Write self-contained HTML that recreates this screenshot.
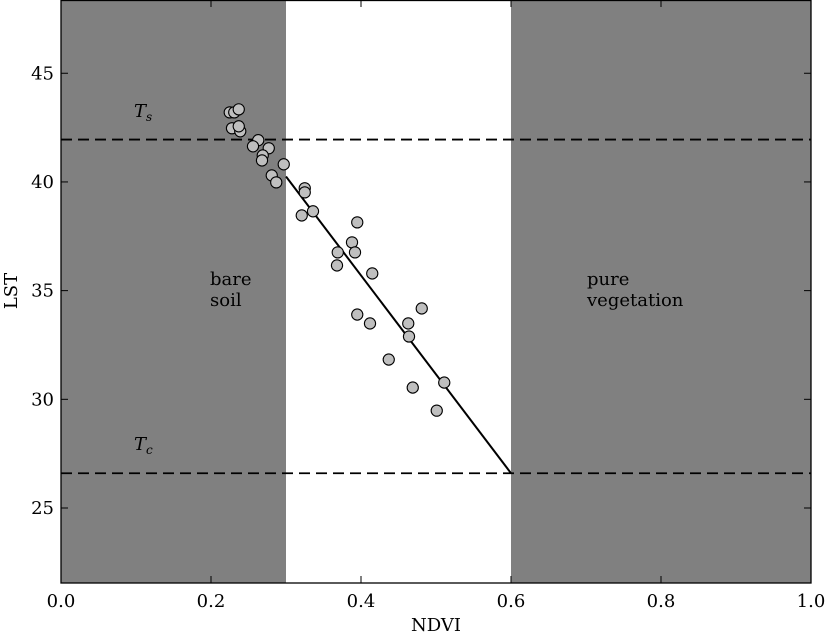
<!DOCTYPE html>
<html><head><meta charset="utf-8"><style>
html,body{margin:0;padding:0;background:#fff;}
svg text{font-family:"DejaVu Serif","Liberation Serif",serif;}
</style></head><body>
<svg id="chart" width="827" height="633" xmlns="http://www.w3.org/2000/svg"></svg>
<script>
const ndvi=[.225,.231,.237,.228,.239,.237,.263,.256,.277,.269,.268,.297,.281,.287,.325,.325,.321,.336,.395,.388,.392,.369,.368,.415,.395,.412,.463,.481,.464,.437,.469,.511,.501];
const lst=[43.20,43.20,43.34,42.47,42.33,42.56,41.92,41.64,41.55,41.22,40.99,40.81,40.30,39.98,39.71,39.52,38.46,38.65,38.14,37.22,36.76,36.76,36.16,35.79,33.90,33.49,33.49,34.18,32.89,31.83,30.54,30.77,29.48];
const xTicks=[0.0,0.2,0.4,0.6,0.8,1.0];
const xTickLabels=["0.0","0.2","0.4","0.6","0.8","1.0"];
const yTicks=[25,30,35,40,45];
const yTickLabels=["25","30","35","40","45"];
const Ts=41.95, Tc=26.6;
const fitLine=[[0.3,40.25],[0.6,26.6]];
const zones=[[0,0.3],[0.6,1.0]];

const L=61,R=811,T=0,B=583,xMin=0,xMax=1,yMin=21.55,yMax=48.37;
const X=v=>L+(v-xMin)/(xMax-xMin)*(R-L);
const Y=v=>B-(v-yMin)/(yMax-yMin)*(B-T);
const svg=document.getElementById('chart');
const NS='http://www.w3.org/2000/svg';
function mk(tag,attrs,text){const e=document.createElementNS(NS,tag);for(const k in attrs)e.setAttribute(k,attrs[k]);if(text!=null)e.textContent=text;svg.appendChild(e);return e;}

zones.forEach((z,i)=>{
 const r=mk('rect',{x:X(z[0]),y:T,width:X(z[1])-X(z[0]),height:B-T,fill:'#808080'});
 
 
});
[Ts,Tc].forEach((v,i)=>{
 const l=mk('line',{x1:L,x2:R,y1:Y(v),y2:Y(v),stroke:'#000','stroke-width':1.8,'stroke-dasharray':'11,6'});
 
 
});
const fl=mk('line',{x1:X(fitLine[0][0]),y1:Y(fitLine[0][1]),x2:X(fitLine[1][0]),y2:Y(fitLine[1][1]),stroke:'#000','stroke-width':2});


ndvi.forEach((v,i)=>{
 const c=mk('circle',{cx:X(v),cy:Y(lst[i]),r:5.6,fill:'#bfbfbf',stroke:'#000','stroke-width':1.1});
 
 
});
const fr=mk('rect',{x:L,y:T+0.5,width:R-L,height:B-T-0.5,fill:'none',stroke:'#000','stroke-width':1.3});


xTicks.forEach((v,i)=>{
 mk('line',{x1:X(v),x2:X(v),y1:B,y2:B-7,stroke:'#000'});
 mk('line',{x1:X(v),x2:X(v),y1:T,y2:T+7,stroke:'#000'});
 const t=mk('text',{x:X(v),y:B+24,'text-anchor':'middle','font-size':18},xTickLabels[i]);
 
 
});
yTicks.forEach((v,i)=>{
 mk('line',{x1:L,x2:L+7,y1:Y(v),y2:Y(v),stroke:'#000'});
 mk('line',{x1:R,x2:R-7,y1:Y(v),y2:Y(v),stroke:'#000'});
 const t=mk('text',{x:L-7,y:Y(v)+6,'text-anchor':'end','font-size':18},yTickLabels[i]);
 
 
});
</script>
<svg width="827" height="633" style="position:absolute;left:0;top:0" xmlns="http://www.w3.org/2000/svg">
<text x="436" y="631" text-anchor="middle" font-size="18">NDVI</text>
<text x="0" y="0" transform="translate(17,291) rotate(-90)" text-anchor="middle" font-size="18">LST</text>
<text x="210" y="285" font-size="18">bare</text>
<text x="210" y="306" font-size="18">soil</text>
<text x="587" y="285" font-size="18">pure</text>
<text x="587" y="306" font-size="18">vegetation</text>
<text x="134" y="117" font-size="18" font-style="italic">T<tspan font-size="12" dy="4">s</tspan></text>
<text x="134" y="450" font-size="18" font-style="italic">T<tspan font-size="12" dy="4">c</tspan></text>
</svg>
</body></html>
